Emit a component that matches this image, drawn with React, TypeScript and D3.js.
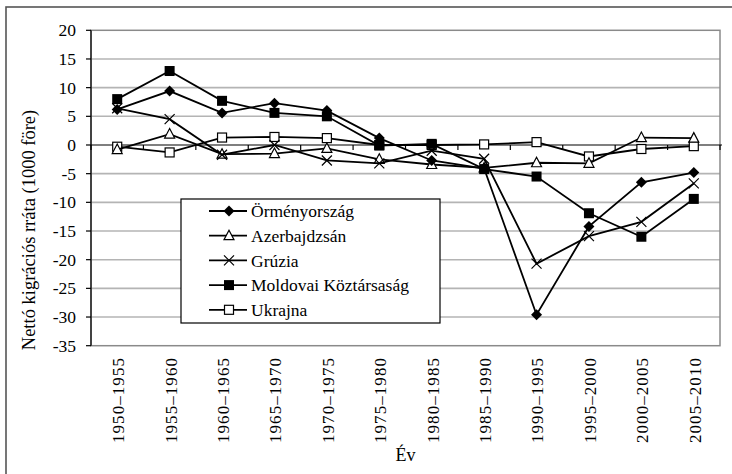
import React from "react";
import * as d3 from "d3";

const categories = ["1950–1955","1955–1960","1960–1965","1965–1970","1970–1975","1975–1980","1980–1985","1985–1990","1990–1995","1995–2000","2000–2005","2005–2010"];
const armenia = [6.2, 9.4, 5.6, 7.3, 6.0, 1.2, -2.7, -4.1, -29.6, -14.2, -6.5, -4.8];
const azerbaijan = [-0.8, 1.9, -1.6, -1.5, -0.6, -2.5, -3.4, -4.0, -3.1, -3.2, 1.3, 1.2];
const georgia = [6.4, 4.5, -1.7, 0.0, -2.7, -3.2, -1.0, -2.4, -20.7, -15.9, -13.4, -6.7];
const moldova = [8.0, 12.9, 7.7, 5.6, 5.0, -0.1, 0.2, -4.2, -5.5, -11.9, -16.0, -9.4];
const ukraine = [-0.3, -1.3, 1.3, 1.4, 1.2, 0.0, 0.0, 0.1, 0.5, -2.0, -0.7, -0.2];
const seriesNames = ["Örményország", "Azerbajdzsán", "Grúzia", "Moldovai Köztársaság", "Ukrajna"];
const yTicks = [20, 15, 10, 5, 0, -5, -10, -15, -20, -25, -30, -35];

const FONT = "Liberation Serif, serif";

type Shape = "diamond" | "triangle" | "x" | "fsquare" | "osquare";

function Marker({ shape, x, y }: { shape: Shape; x: number; y: number }) {
  switch (shape) {
    case "diamond":
      return <path d={`M${x},${y - 5.5}L${x + 5.5},${y}L${x},${y + 5.5}L${x - 5.5},${y}Z`} fill="#000" />;
    case "triangle":
      return <path d={`M${x},${y - 5.5}L${x + 5},${y + 4}L${x - 5},${y + 4}Z`} fill="#fff" stroke="#000" strokeWidth={1.2} />;
    case "x":
      return <path d={`M${x - 5},${y - 5}L${x + 5},${y + 5}M${x - 5},${y + 5}L${x + 5},${y - 5}`} stroke="#000" strokeWidth={1.2} />;
    case "fsquare":
      return <rect x={x - 5} y={y - 5} width={10} height={10} fill="#000" />;
    case "osquare":
      return <rect x={x - 4.5} y={y - 4.5} width={9} height={9} fill="#fff" stroke="#000" strokeWidth={1.2} />;
  }
}

export default function App() {
  const left = 91, right = 720, top = 30.3, bottom = 345.7;
  const x = d3.scaleBand<string>().domain(categories).range([left, right]).padding(0);
  const y = d3.scaleLinear().domain([-35, 20]).range([bottom, top]);
  const cx = (c: string) => (x(c) as number) + x.bandwidth() / 2;

  const series: { name: string; values: number[]; shape: Shape }[] = [
    { name: seriesNames[4], values: ukraine, shape: "osquare" },
    { name: seriesNames[1], values: azerbaijan, shape: "triangle" },
    { name: seriesNames[2], values: georgia, shape: "x" },
    { name: seriesNames[3], values: moldova, shape: "fsquare" },
    { name: seriesNames[0], values: armenia, shape: "diamond" },
  ];
  const legendOrder: { name: string; shape: Shape }[] = [
    { name: seriesNames[0], shape: "diamond" },
    { name: seriesNames[1], shape: "triangle" },
    { name: seriesNames[2], shape: "x" },
    { name: seriesNames[3], shape: "fsquare" },
    { name: seriesNames[4], shape: "osquare" },
  ];

  const line = d3.line<number>().x((_, i) => cx(categories[i])).y((v) => y(v));
  const boundaries = d3.range(categories.length + 1).map((i) => left + i * x.bandwidth());
  const ts = { fontFamily: FONT };

  return (
    <svg width={732} height={474} style={{ position: "absolute", left: 0, top: 0, background: "#fff", fontFamily: FONT }}>
      <rect x={0} y={0} width={732} height={474} fill="#fff" />
      <rect x={6} y={7} width={740} height={480} fill="none" stroke="#555" strokeWidth={1.6} />
      {yTicks.filter((t) => t !== 0 && t !== 20 && t !== -35).map((t) => (
        <line key={t} x1={left} x2={right} y1={y(t)} y2={y(t)} stroke="#b4b4b4" strokeWidth={1.6} />
      ))}
      <rect x={left} y={top} width={right - left} height={bottom - top} fill="none" stroke="#8a8a8a" strokeWidth={1.5} />
      <line x1={left} x2={left} y1={top} y2={bottom} stroke="#000" strokeWidth={1.2} />
      {yTicks.map((t) => (
        <g key={t}>
          <line x1={left - 5} x2={left} y1={y(t)} y2={y(t)} stroke="#000" strokeWidth={1.2} />
          <text style={ts} x={left - 15} y={y(t)} dy="0.35em" textAnchor="end" fontSize={17.5}>{t}</text>
        </g>
      ))}
      <line x1={left} x2={right + 2} y1={y(0)} y2={y(0)} stroke="#000" strokeWidth={1.2} />
      {boundaries.map((b, i) => (
        <line key={i} x1={b} x2={b} y1={y(0)} y2={y(0) + 5} stroke="#000" strokeWidth={1.2} />
      ))}
      {series.map((s) => (
        <g key={s.name}>
          <path d={line(s.values) || ""} fill="none" stroke="#000" strokeWidth={1.8} />
          {s.values.map((v, i) => (
            <Marker key={i} shape={s.shape} x={cx(categories[i])} y={y(v)} />
          ))}
        </g>
      ))}
      {categories.map((c) => (
        <text key={c} style={ts} transform={`translate(${cx(c) + 1},358) rotate(-90)`} textAnchor="end" dy="0.35em" fontSize={17} textLength={85} lengthAdjust="spacing">{c}</text>
      ))}
      <text style={ts} x={(left + right) / 2} y={461} textAnchor="middle" fontSize={18}>Év</text>
      <text style={ts} transform={`translate(29,230) rotate(-90)`} textAnchor="middle" dy="0.35em" fontSize={18.5}>Nettó kigrációs rráta (1000 före)</text>
      <rect x={181} y={199} width={259} height={124} fill="#fff" stroke="#000" strokeWidth={1.2} />
      {legendOrder.map((l, i) => {
        const ly = 211 + i * 24.7;
        return (
          <g key={l.name}>
            <line x1={209} x2={247} y1={ly} y2={ly} stroke="#000" strokeWidth={1.8} />
            <Marker shape={l.shape} x={229} y={ly} />
            <text style={ts} x={251} y={ly} dy="0.35em" fontSize={17.5}>{l.name}</text>
          </g>
        );
      })}
    </svg>
  );
}
